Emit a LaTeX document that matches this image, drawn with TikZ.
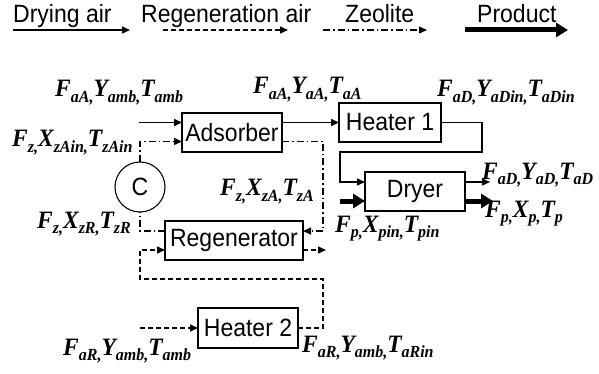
\documentclass[tikz,border=0pt]{standalone}
\usepackage{fontspec}
\setmainfont{Liberation Serif}
\newfontfamily\arialf[FakeStretch=0.92]{Liberation Sans}
\newfontfamily\labf[FakeStretch=0.94]{Liberation Serif}
\usetikzlibrary{arrows.meta}
\newcommand\subs[1]{\raisebox{-5.5pt}{\fontsize{17}{17}\selectfont #1}}
\tikzset{
  box/.style={draw, line width=1.1pt, inner sep=0pt, outer sep=0pt, font=\arialf\fontsize{25}{25}\selectfont},
  lab/.style={inner sep=0pt, anchor=base west, font=\labf\fontsize{25}{26}\selectfont\bfseries\itshape},
  leg/.style={inner sep=0pt, anchor=base west, font=\arialf\fontsize{25}{25}\selectfont},
  tip/.style={-{Triangle[length=8pt,width=7pt]}},
  air/.style={line width=1.5pt, tip},
  regair/.style={line width=1.5pt, dash pattern=on 5pt off 3pt},
  zeo/.style={line width=1.3pt, dash pattern=on 7pt off 3pt on 1.5pt off 3pt},
  prod/.style={line width=5pt, -{Triangle[length=12pt,width=14pt]}},
}
\begin{document}
\begin{tikzpicture}[x=1pt,y=-1pt]
\useasboundingbox (0,0) rectangle (599,374);
% legend
\node[leg] (lg1) at (13,23) {Drying air};
\node[leg] (lg2) at (141,23) {Regeneration air};
\node[leg] (lg3) at (345,23) {Zeolite};
\node[leg] (lg4) at (477,23) {Product};
\coordinate (l1a) at (13,30); \coordinate (l1b) at (130,30);
\coordinate (l2a) at (163,30); \coordinate (l2b) at (288,30);
\coordinate (l3a) at (323,30); \coordinate (l3b) at (427,30);
\coordinate (l4a) at (465,30); \coordinate (l4b) at (568,30);
\draw[air] (l1a) -- (l1b);
\draw[regair, tip] (l2a) -- (l2b);
\draw[zeo, tip] (l3a) -- (l3b);
\draw[prod] (l4a) -- (l4b);
% boxes
\node[box, minimum width=100pt, minimum height=39pt] (ads) at (232,132.5) {Adsorber};
\node[box, minimum width=102pt, minimum height=39pt] (h1) at (390,122.5) {Heater 1};
\node[box, minimum width=100pt, minimum height=39pt] (dry) at (415,191.5) {Dryer};
\node[box, minimum width=138pt, minimum height=39pt] (reg) at (234,240.5) {Regenerator};
\node[box, minimum width=100pt, minimum height=40pt] (h2) at (248,328) {Heater 2};
\node[box, circle, minimum size=50pt] (C) at (140,187) {C};
% coordinates
\coordinate (ain) at (139,122.5);
\coordinate (zin) at (140,141.5);
\coordinate (k1) at (482,122.5);
\coordinate (k2) at (482,152);
\coordinate (k3) at (340,152);
\coordinate (k4) at (340,182);
\coordinate (pin) at (340,201);
\coordinate (aout) at (490,182);
\coordinate (pout) at (493,201);
\coordinate (z1) at (323,141.5);
\coordinate (z2) at (323,231);
\coordinate (z3) at (140,231);
\coordinate (rout) at (326,250);
\coordinate (r1) at (323,328);
\coordinate (r2) at (323,279);
\coordinate (r3) at (140,279);
\coordinate (r4) at (140,250);
\coordinate (hin) at (140,328);
% drying air
\draw[air] (ain) -- (ain -| ads.west);
\draw[air] (ads.east |- h1.west) -- (h1.west);
\draw[air] (h1.east) -- (k1) -- (k2) -- (k3) -- (k4) -- (k4 -| dry.west);
\draw[air] (dry.east |- aout) -- (aout);
% product
\draw[prod] (pin) -- (pin -| dry.west);
\draw[prod] (dry.east |- pout) -- (pout);
% zeolite
\draw[zeo, tip] (C.north) -- (zin) -- (zin -| ads.west);
\draw[zeo, tip] (ads.east |- zin) -- (z1) -- (z2) -- (z2 -| reg.east);
\draw[zeo] (z2 -| reg.west) -- (z3) -- (C.south);
% regeneration air
\draw[regair, tip] (hin) -- (hin -| h2.west);
\draw[regair, tip] (h2.east) -- (r1) -- (r2) -- (r3) -- (r4) -- (r4 -| reg.west);
\draw[regair, tip] (reg.east |- rout) -- (rout);
% labels
\node[lab] (t1) at (55,97) {F\subs{aA,}Y\subs{amb,}T\subs{amb}};
\node[lab] (t2) at (253,94) {F\subs{aA,}Y\subs{aA,}T\subs{aA}};
\node[lab] (t3) at (437,97) {F\subs{aD,}Y\subs{aDin,}T\subs{aDin}};
\node[lab] (t4) at (12,147) {F\subs{z,}X\subs{zAin,}T\subs{zAin}};
\node[lab] (t5) at (220,196) {F\subs{z,}X\subs{zA,}T\subs{zA}};
\node[lab] (t6) at (482,179) {F\subs{aD,}Y\subs{aD,}T\subs{aD}};
\node[lab] (t7) at (485,217) {F\subs{p,}X\subs{p,}T\subs{p}};
\node[lab] (t8) at (335,232) {F\subs{p,}X\subs{pin,}T\subs{pin}};
\node[lab] (t9) at (37,228) {F\subs{z,}X\subs{zR,}T\subs{zR}};
\node[lab] (t10) at (63,355) {F\subs{aR,}Y\subs{amb,}T\subs{amb}};
\node[lab] (t11) at (302,352) {F\subs{aR,}Y\subs{amb,}T\subs{aRin}};
\end{tikzpicture}
\end{document}
